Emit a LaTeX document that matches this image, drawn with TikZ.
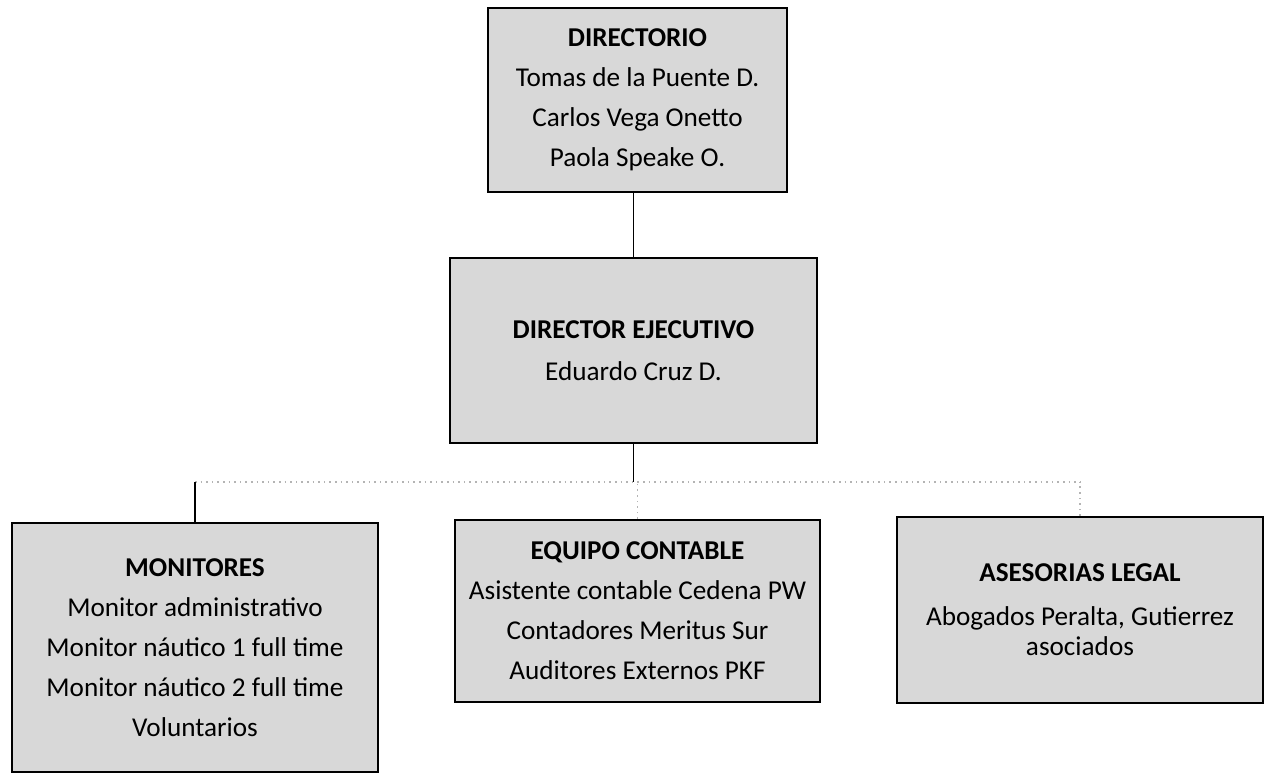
\documentclass[tikz,border=0pt]{standalone}
\usepackage{fontspec}
\setmainfont{Carlito}
\usetikzlibrary{positioning}

\definecolor{cajagris}{HTML}{D8D8D8}
\definecolor{lineagris}{HTML}{B4B4B4}

\tikzset{
  caja/.style={draw, line width=1pt, fill=cajagris, align=center, inner sep=0pt,
    font=\fontsize{13.6}{20}\selectfont},
  enlace/.style={line width=0.9pt},
  tenue/.style={lineagris, dotted, line width=0.8pt}
}

\begin{document}
\begin{tikzpicture}[x=0.5pt, y=-0.5pt]
	\useasboundingbox (0,0) rectangle (1271,776);

	\node (direc) [caja, minimum width=149.5pt, minimum height=92pt] at (637.5,100)
		{\textbf{DIRECTORIO}\\Tomas de la Puente D.\\Carlos Vega Onetto\\Paola Speake O.};
	\node (ejec) [caja, minimum width=183.5pt, minimum height=92.5pt] at (633.5,350.5)
		{\textbf{DIRECTOR EJECUTIVO}\\[1pt]Eduardo Cruz D.};
	\node (monit) [caja, minimum width=183pt, minimum height=124.5pt] at (195,647.5)
		{\textbf{MONITORES}\\Monitor administrativo\\Monitor náutico 1 full time\\Monitor náutico 2 full time\\Voluntarios};
	\node (contab) [caja, minimum width=182.5pt, minimum height=91pt] at (637.5,611)
		{\textbf{EQUIPO CONTABLE}\\Asistente contable Cedena PW\\Contadores Meritus Sur\\Auditores Externos PKF};
	\node (legal) [caja, minimum width=183pt, minimum height=93pt] at (1080,610)
		{\textbf{ASESORIAS LEGAL}\\[2pt]Abogados Peralta, Gutierrez\\[-5pt]asociados};

	\coordinate (bus) at (ejec.south |- 0,482);

	\draw [enlace] (ejec.north) -- (ejec.north |- direc.south);
	\draw [enlace] (ejec.south) -- (bus);
	\draw [tenue] (monit.north |- bus) -- (legal.north |- bus);
	\draw [enlace] (monit.north) -- (monit.north |- bus);
	\draw [tenue] (contab.north) -- (contab.north |- bus);
	\draw [tenue] (legal.north) -- (legal.north |- bus);
\end{tikzpicture}
\end{document}
